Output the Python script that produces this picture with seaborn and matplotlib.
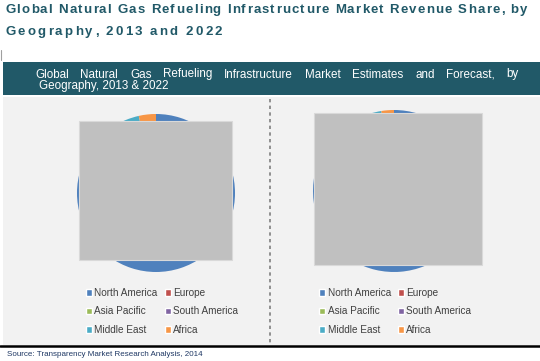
import matplotlib
matplotlib.use("Agg")
import matplotlib.pyplot as plt
from matplotlib.patches import Rectangle, Patch
import seaborn as sns

sns.set_theme(style="white")
plt.rcParams['font.family'] = ['Liberation Sans', 'DejaVu Sans']

# data
regions = ['North America', 'Europe', 'Asia Pacific', 'South America', 'Middle East', 'Africa']
share_2013 = [80.0, 4.0, 5.0, 2.0, 5.5, 3.5]
share_2022 = [78.0, 5.0, 7.0, 2.5, 5.0, 2.5]
colors = ['#4f81bd', '#c0504d', '#9bbb59', '#8064a2', '#4bacc6', '#f79646']

title_1 = 'Global Natural Gas Refueling Infrastructure Market Revenue Share, by'
title_2 = 'Geography, 2013 and 2022'
band_1 = 'Global Natural Gas Refueling Infrastructure Market Estimates and Forecast, by'
band_2 = 'Geography, 2013 & 2022'
source = 'Source: Transparency Market Research Analysis, 2014'

W, H = 540, 361
fig = plt.figure(figsize=(W / 100, H / 100), dpi=100)
fig.patch.set_facecolor('white')
renderer = fig.canvas.get_renderer()

# background axes in pixel units
bg = fig.add_axes([0, 0, 1, 1])
bg.set_xlim(0, W)
bg.set_ylim(H, 0)
bg.axis('off')


def text_width(s, **kw):
    t = bg.text(0, 0, s, **kw)
    w = t.get_window_extent(renderer).width
    t.remove()
    return w


def tracked(x, y, s, target_w, **kw):
    # letter-spaced text stretched to a given width
    bar = text_width('|', **kw)
    pos = [text_width(s[:i] + '|', **kw) - bar for i in range(len(s))]
    track = (target_w - text_width(s, **kw)) / (len(s) - 1)
    for i, ch in enumerate(s):
        if ch != ' ':
            bg.text(x + pos[i] + i * track, y, ch, va='baseline', **kw)


def justified(x, y, s, target_w, **kw):
    words = s.split(' ')
    ws = [text_width(w, **kw) for w in words]
    gap = (target_w - sum(ws)) / (len(words) - 1)
    cx = x
    for w, wd in zip(words, ws):
        bg.text(cx, y, w, va='baseline', **kw)
        cx += wd + gap


title_kw = dict(fontsize=9.5, fontweight='bold', color='#215968')
tracked(5, 13, title_1, 522, **title_kw)
tracked(5, 35, title_2, 217, **title_kw)

# little marker at left edge
bg.plot([1, 1], [50, 60], color='#a0a0a0', lw=0.8)

# header band and panel
bg.add_patch(Rectangle((3, 62), W - 3, 33, facecolor='#215968', edgecolor='none'))
bg.add_patch(Rectangle((3, 97), W - 3, 248, facecolor='#f2f2f2', edgecolor='none'))
band_kw = dict(fontsize=8.4, color='white')
justified(35, 77.5, band_1, 484, **band_kw)
bg.text(39, 89.5, band_2, va='baseline', **band_kw)

bg.plot([270, 270], [99, 344], color='#7f7f7f', lw=1.2, ls=(0, (2, 2)))
bg.plot([0, W], [346, 346], color='black', lw=1.8)
bg.text(7, 356, source, fontsize=5.8, color='#1f3864', va='baseline')


def px_axes(cx, cy, r):
    return [(cx - r) / W, 1 - (cy + r) / H, 2 * r / W, 2 * r / H]


order = [0, 2, 4, 1, 3, 5]
for vals, (cx, cy, r), lx in [(share_2013, (156, 193, 79), 86),
                              (share_2022, (394, 191, 81), 319)]:
    ax = fig.add_axes(px_axes(cx, cy, r))
    ax.pie(vals, colors=colors, startangle=90, counterclock=False,
           wedgeprops=dict(linewidth=0))
    ax.set_xlim(-1, 1)
    ax.set_ylim(-1, 1)
    ax.set_aspect('equal')
    ax.axis('off')
    handles = [Patch(facecolor=colors[i], label=regions[i]) for i in order]
    leg = fig.legend(handles=handles, ncol=2, loc='upper left',
                     bbox_to_anchor=(lx / W, 1 - 288 / H), frameon=False,
                     fontsize=7.2, handlelength=0.6, handleheight=0.6,
                     handletextpad=0.25, columnspacing=0.7, labelspacing=0.85,
                     borderpad=0, borderaxespad=0)
    for t in leg.get_texts():
        t.set_color('#404040')

# grey cover boxes on top
top = fig.add_axes([0, 0, 1, 1])
top.set_xlim(0, W)
top.set_ylim(H, 0)
top.axis('off')
top.patch.set_alpha(0)
top.add_patch(Rectangle((79, 121), 153, 139, facecolor='#c0c0c0', edgecolor='#d9d9d9', lw=0.8))
top.add_patch(Rectangle((314, 113), 168, 152, facecolor='#c0c0c0', edgecolor='#d9d9d9', lw=0.8))

fig.savefig('out.png', dpi=100)
